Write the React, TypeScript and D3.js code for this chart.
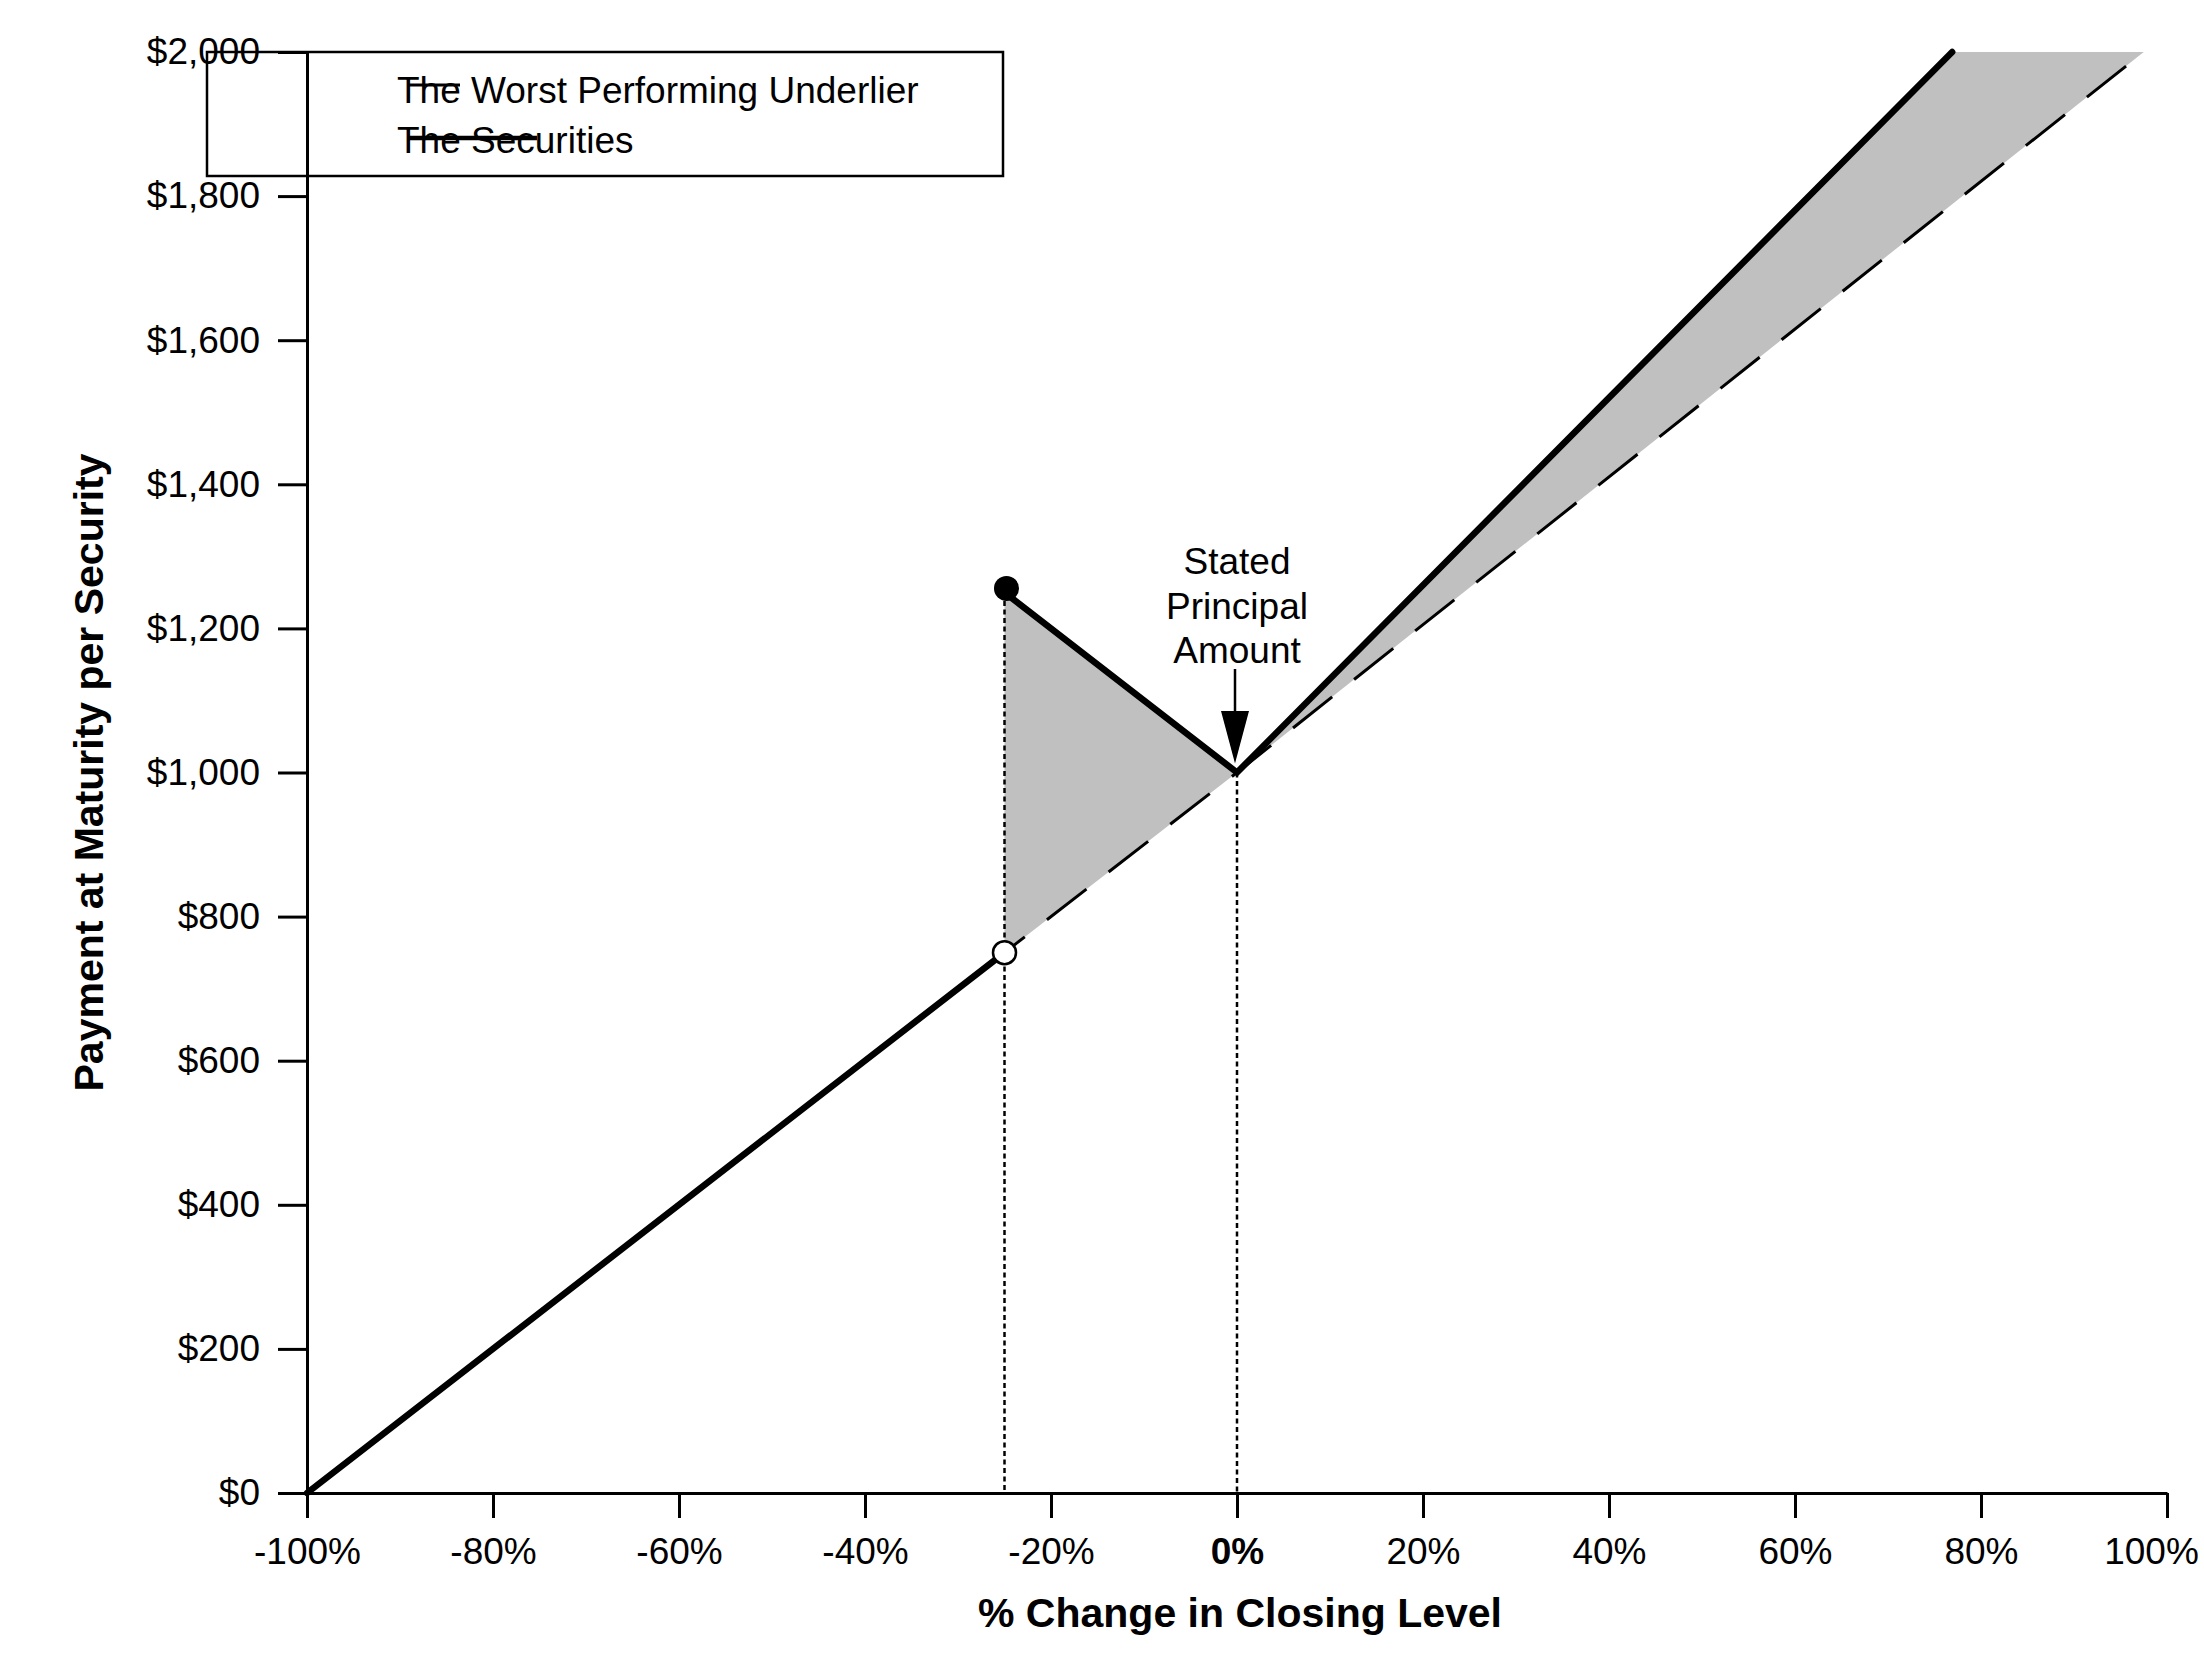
import React, { useEffect, useRef } from "react";
import * as d3 from "d3";

// % change in closing level of the worst performing underlier
const xTicks = [-100, -80, -60, -40, -20, 0, 20, 40, 60, 80, 100];
const yTicks = [0, 200, 400, 600, 800, 1000, 1200, 1400, 1600, 1800, 2000];

// underlier (dashed) line
const underlierX = [-100, -25, 0, 97.5];
const underlierY = [0, 750, 1000, 2000];

// securities payoff, in pieces
const lowerX = [-100, -25];
const lowerY = [0, 750];
const upperX = [-25, 0, 76.9];
const upperY = [1250, 1000, 2000];

const barrier = -25;
const principal = 1000;
const barrierTop = 1250;
const barrierBottom = 750;

const legendLabels = ["The Worst Performing Underlier", "The Securities"];
const noteLines = ["Stated", "Principal", "Amount"];

const W = 2204;
const H = 1664;
const FONT = "'Liberation Sans', Arial, Helvetica, sans-serif";

const App: React.FC = () => {
  const svgRef = useRef<SVGSVGElement>(null);

  useEffect(() => {
    document.body.style.margin = "0";
    if (!svgRef.current) return;
    const svg = d3.select(svgRef.current);
    svg.selectAll("*").remove();

    const x = d3.scaleLinear().domain([-100, 100]).range([307, 2167]);
    const y = d3.scaleLinear().domain([0, 2000]).range([1493, 52]);

    const toPts = (xs: number[], ys: number[]) =>
      xs.map((v, i) => [v, ys[i]] as [number, number]);
    const line = d3
      .line<[number, number]>()
      .x((d) => x(d[0]))
      .y((d) => y(d[1]));

    // shaded areas between the securities and the underlier
    const shade = [
      [
        [barrier, barrierTop],
        [0, principal],
        [barrier, barrierBottom],
      ],
      [
        [0, principal],
        [upperX[2], upperY[2]],
        [underlierX[3], underlierY[3]],
      ],
    ] as [number, number][][];
    svg
      .selectAll("path.shade")
      .data(shade)
      .enter()
      .append("path")
      .attr("class", "shade")
      .attr("d", (d) => line(d) + "Z")
      .attr("fill", "#c0c0c0");

    // underlier line
    svg
      .append("path")
      .attr("d", line(toPts(underlierX, underlierY)) || "")
      .attr("fill", "none")
      .attr("stroke", "#000")
      .attr("stroke-width", 3)
      .attr("stroke-dasharray", "50 28");

    // dotted verticals at barrier and 0%
    const drops: [number, number][] = [
      [barrier, barrierTop],
      [0, principal],
    ];
    svg
      .selectAll("line.drop")
      .data(drops)
      .enter()
      .append("line")
      .attr("class", "drop")
      .attr("x1", (d) => x(d[0]))
      .attr("x2", (d) => x(d[0]))
      .attr("y1", (d) => y(d[1]))
      .attr("y2", y(0))
      .attr("stroke", "#000")
      .attr("stroke-width", 2.5)
      .attr("stroke-dasharray", "5 3.5");

    // securities line
    [toPts(lowerX, lowerY), toPts(upperX, upperY)].forEach((pts) => {
      svg
        .append("path")
        .attr("d", line(pts) || "")
        .attr("fill", "none")
        .attr("stroke", "#000")
        .attr("stroke-width", 6.5)
        .attr("stroke-linejoin", "miter")
        .attr("stroke-linecap", "round");
    });

    svg
      .append("circle")
      .attr("cx", x(barrier) + 2)
      .attr("cy", y(barrierTop) - 4)
      .attr("r", 12.5)
      .attr("fill", "#000");
    svg
      .append("circle")
      .attr("cx", x(barrier))
      .attr("cy", y(barrierBottom))
      .attr("r", 11.5)
      .attr("fill", "#fff")
      .attr("stroke", "#000")
      .attr("stroke-width", 2.5);

    // axes
    const yAxis = svg
      .append("g")
      .attr("transform", `translate(${x(-100)},0)`)
      .call(
        d3
          .axisLeft(y)
          .tickValues(yTicks)
          .tickSize(29)
          .tickSizeOuter(0)
          .tickPadding(18)
          .tickFormat((d) => d3.format("$,.0f")(d as number))
      );
    const xAxis = svg
      .append("g")
      .attr("transform", `translate(0,${y(0)})`)
      .call(
        d3
          .axisBottom(x)
          .tickValues(xTicks)
          .tickSize(25)
          .tickSizeOuter(0)
          .tickPadding(20)
          .tickFormat((d) => `${d}%`)
      );
    [yAxis, xAxis].forEach((g) => {
      g.attr("font-family", FONT).attr("font-size", 37);
      g.selectAll("path, line").attr("stroke", "#000").attr("stroke-width", 3);
      g.selectAll("text").attr("fill", "#000");
    });
    xAxis
      .selectAll<SVGTextElement, number>("text")
      .attr("font-weight", (d) => (d === 0 ? "bold" : "normal"))
      // last label is pulled in so it stays on the page
      .attr("dx", (d) => (d === 100 ? -16 : 0));

    // axis titles
    svg
      .append("text")
      .attr("x", 1240)
      .attr("y", 1627)
      .attr("text-anchor", "middle")
      .attr("font-family", FONT)
      .attr("font-size", 41)
      .attr("font-weight", "bold")
      .text("% Change in Closing Level");
    svg
      .append("text")
      .attr("transform", `translate(103,${(y(0) + y(2000)) / 2}) rotate(-90)`)
      .attr("text-anchor", "middle")
      .attr("font-family", FONT)
      .attr("font-size", 41)
      .attr("font-weight", "bold")
      .text("Payment at Maturity per Security");

    // stated principal note with arrow
    const nx = x(0);
    svg
      .append("g")
      .selectAll("text")
      .data(noteLines)
      .enter()
      .append("text")
      .attr("x", nx)
      .attr("y", (_, i) => 574 + i * 44.5)
      .attr("text-anchor", "middle")
      .attr("font-family", FONT)
      .attr("font-size", 37)
      .text((d) => d);
    svg
      .append("line")
      .attr("x1", nx - 2)
      .attr("x2", nx - 2)
      .attr("y1", 669)
      .attr("y2", 715)
      .attr("stroke", "#000")
      .attr("stroke-width", 2.5);
    svg
      .append("path")
      .attr(
        "d",
        `M${nx - 16},711 L${nx + 12},711 L${nx - 2},${y(principal) - 9} Z`
      )
      .attr("fill", "#000");

    // legend
    const lg = svg.append("g");
    lg.append("rect")
      .attr("x", 207)
      .attr("y", 52)
      .attr("width", 796)
      .attr("height", 124)
      .attr("fill", "none")
      .attr("stroke", "#000")
      .attr("stroke-width", 2.5);
    lg.selectAll("text")
      .data(legendLabels)
      .enter()
      .append("text")
      .attr("x", 397)
      .attr("y", (_, i) => 103 + i * 50)
      .attr("font-family", FONT)
      .attr("font-size", 37)
      .text((d) => d);
    lg.append("line")
      .attr("x1", 408)
      .attr("x2", 537)
      .attr("y1", 85)
      .attr("y2", 85)
      .attr("stroke", "#000")
      .attr("stroke-width", 3)
      .attr("stroke-dasharray", "52 200");
    lg.append("line")
      .attr("x1", 408)
      .attr("x2", 537)
      .attr("y1", 138)
      .attr("y2", 138)
      .attr("stroke", "#000")
      .attr("stroke-width", 4.5);
  }, []);

  return (
    <svg
      ref={svgRef}
      width={W}
      height={H}
      viewBox={`0 0 ${W} ${H}`}
      style={{ display: "block", background: "#fff" }}
    />
  );
};

export default App;
